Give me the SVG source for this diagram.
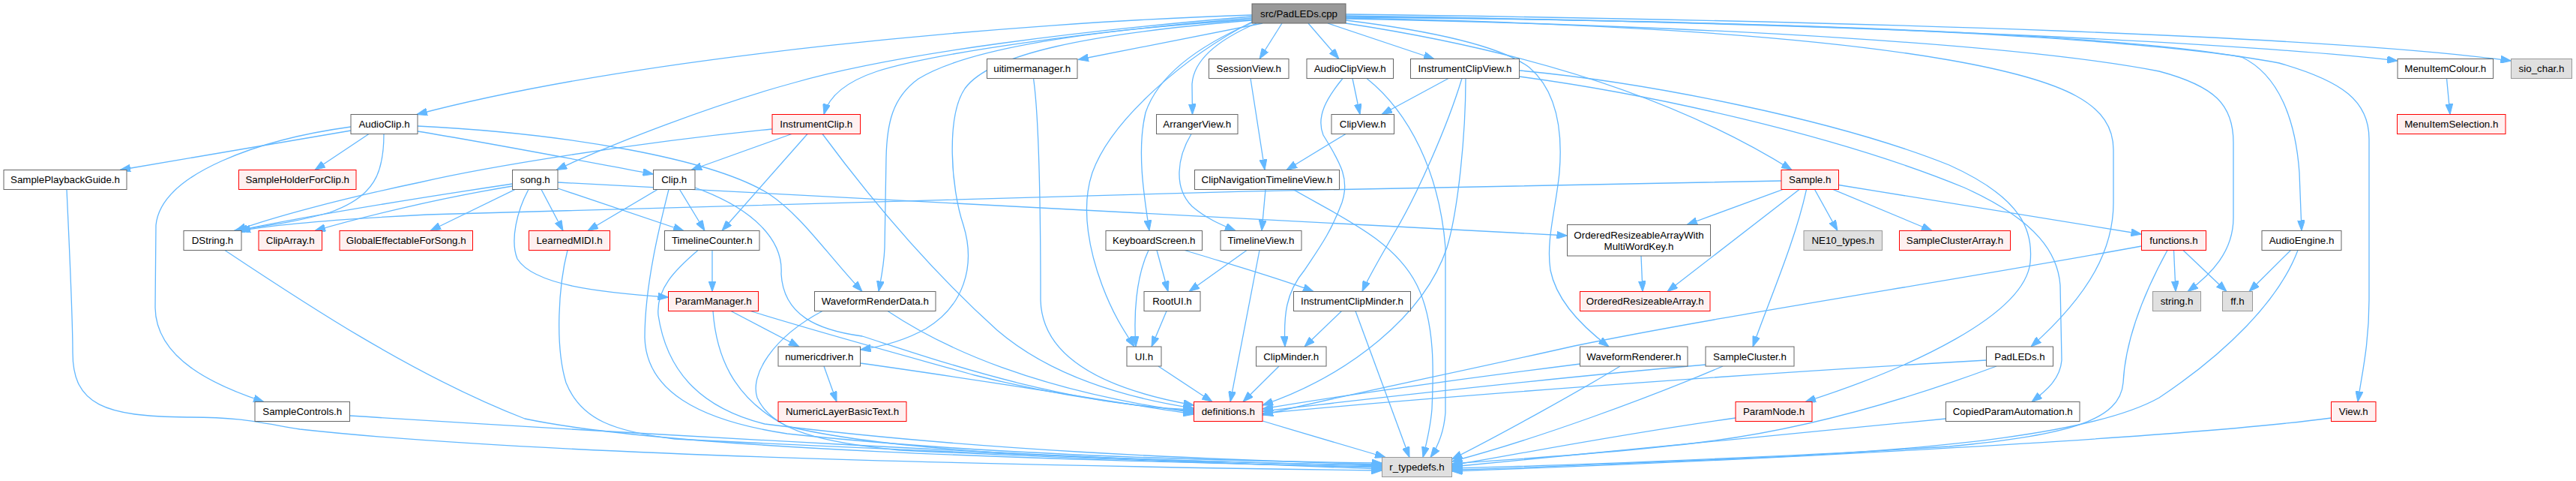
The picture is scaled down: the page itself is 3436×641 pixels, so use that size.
<svg xmlns="http://www.w3.org/2000/svg" width="3436" height="641" viewBox="0 0 3436 641">
<style>
.node rect{fill:#ffffff;stroke:#666666;stroke-width:1}
.node.red rect{fill:#fff0f0;stroke:#ff0000}
.node.gray rect{fill:#e0e0e0;stroke:#999999}
.node.root rect{fill:#999999;stroke:#666666}
.node text{font-family:"Liberation Sans",Arial,Helvetica,sans-serif;font-size:13.33px;fill:#000000;text-anchor:middle}
#edges path{fill:none;stroke:#63b8ff;stroke-width:1.3;marker-end:url(#ah)}
</style>
<defs>
<marker id="ah" markerWidth="14" markerHeight="10" refX="14" refY="5" orient="auto" markerUnits="userSpaceOnUse"><path d="M0,0L14,5L0,10z" fill="#63b8ff" stroke="#63b8ff" stroke-width="1"/></marker>
</defs>
<rect x="0" y="0" width="3436" height="641" fill="#ffffff"/>
<g id="edges">
<path d="M1670,20 C1350,30 850,75 556,152.5"/>
<path d="M1670,22 C1450,40 1200,70 1060,110 C950,140 820,190 742,226.5"/>
<path d="M1670,24 C1450,42 1250,70 1170,95 C1125,110 1105,130 1099,152.5"/>
<path d="M1670,26 C1450,40 1290,65 1225,105 C1190,130 1183,165 1182,210 L1180,330 C1179,355 1175,372 1172,388.5"/>
<path d="M1670,27 C1450,45 1320,72 1287,118 C1262,155 1268,250 1285,300 C1302,355 1285,408 1235,438 C1205,455 1175,462 1147.5,466"/>
<path d="M1684,31 L1438,79.5"/>
<path d="M1672,28 C1580,75 1482,160 1457,230 C1440,280 1455,340 1470,380 C1485,420 1500,442 1513,462"/>
<path d="M1673,29 C1600,60 1545,100 1528,150 C1516,200 1526,262 1533,307.5"/>
<path d="M1676,31 C1620,55 1592,82 1590,112 L1590.5,152.5"/>
<path d="M1710,31 L1680,78.5"/>
<path d="M1745,31 L1786,78.5"/>
<path d="M1771,31 L1913,78.5"/>
<path d="M1795,27 C1900,40 2000,60 2040,90 C2075,120 2085,170 2080,230 C2075,280 2062,320 2068,360 C2076,400 2110,435 2146,462"/>
<path d="M1795,31 C2000,62 2220,120 2390,226.5"/>
<path d="M1795,24 C2100,30 2400,45 2600,80 C2760,108 2819,140 2819,200 L2819,270 C2819,330 2790,390 2709,462"/>
<path d="M1795,25 C2300,35 2700,60 2880,95 C2955,115 2979,140 2979,190 L2979,290 C2979,335 2950,365 2918,388.5"/>
<path d="M1795,22 C2300,28 2800,42 2990,76 C3040,100 3062,160 3067,230 L3070,307.5"/>
<path d="M1795,23 C2400,28 2850,48 3040,84 C3125,108 3160,135 3160,185 L3160,400 C3160,460 3150,500 3145,535.5"/>
<path d="M1795,21 C2500,32 3000,58 3198,81"/>
<path d="M1795,19 C2500,28 3100,48 3349.5,81"/>
<path d="M468,174 L160,226.5"/>
<path d="M492,178.5 L420,226.5"/>
<path d="M512,178.5 C512,230 500,262 440,283 C392,297 350,301 312,307.5"/>
<path d="M468,169 C350,185 215,230 208,300 L207,410 C208,480 290,515 352,535.5"/>
<path d="M557,175 C650,190 780,215 871.5,232"/>
<path d="M557,168 C760,178 950,212 1025,258 C1070,288 1100,335 1150,388.5"/>
<path d="M1030,172 C850,190 650,222 560,243 C450,266 362,290 314,307.5"/>
<path d="M1056,178.5 L922,226.5"/>
<path d="M1077,178.5 L963,307.5"/>
<path d="M1097,178.5 C1150,250 1230,350 1330,440 C1400,500 1500,530 1592.5,544"/>
<path d="M683.5,245 C550,265 400,290 316,307.5"/>
<path d="M683.5,248 C580,265 480,290 420,307.5"/>
<path d="M687,252.5 L574,307.5"/>
<path d="M722,252.5 L751,307.5"/>
<path d="M744,251 L912,307.5"/>
<path d="M705,252.5 C690,280 680,320 690,345 C712,380 800,390 891.5,396"/>
<path d="M744,243 C1000,258 1500,285 2090.5,314"/>
<path d="M877,252.5 L784,307.5"/>
<path d="M906.5,252.5 L940,307.5"/>
<path d="M892,252.5 C880,300 860,380 860,450 C862,520 930,560 1050,578 C1300,605 1600,614 1843.5,617"/>
<path d="M927,250 C1005,278 1045,320 1042,365 C1045,420 1090,440 1150,448 C1250,480 1420,540 1592.5,546"/>
<path d="M950,333.5 L950,388.5"/>
<path d="M931,333.5 C900,360 875,385 878,420 C890,500 940,545 1020,565 C1300,600 1600,612 1843.5,619"/>
<path d="M757,333.5 C745,380 740,460 755,510 C775,560 820,575 900,585 C1300,605 1600,615 1843.5,621"/>
<path d="M300,333.5 C400,400 550,500 700,558 C900,600 1400,612 1843.5,623"/>
<path d="M89,252.5 C92,320 97,420 97,470 C97,540 140,555 250,556 C320,556 340,562 400,572 C700,605 1300,620 1843.5,627"/>
<path d="M466.5,554 C800,575 1400,610 1843.5,625"/>
<path d="M975,414.5 L1066,462"/>
<path d="M1001,414.5 C1100,445 1200,472 1300,500 C1400,525 1500,540 1592.5,548"/>
<path d="M951,414.5 C955,470 975,530 1050,568 C1200,605 1500,614 1843.5,620"/>
<path d="M1184,414.5 C1260,465 1380,520 1592.5,550"/>
<path d="M1097,414.5 C1030,450 1000,500 1010,530 C1030,575 1100,590 1200,600 C1500,614 1700,620 1843.5,622"/>
<path d="M1099,488 L1116,535.5"/>
<path d="M1147.5,484 C1300,505 1450,530 1592.5,552"/>
<path d="M1684,561 C1740,578 1800,595 1848,609.5"/>
<path d="M1378.5,104.5 C1385,150 1388,250 1388,400 C1390,480 1480,520 1592.5,540"/>
<path d="M1668,104.5 L1687,226.5"/>
<path d="M1589,178.5 C1570,210 1565,250 1590,275 C1610,292 1630,300 1648,307.5"/>
<path d="M1795,178.5 L1716,226.5"/>
<path d="M1688,252.5 L1683,307.5"/>
<path d="M1725,252.5 C1790,290 1860,320 1890,380 C1915,430 1912,500 1910,545 C1908,570 1903,590 1898,609.5"/>
<path d="M1663,333.5 L1586,388.5"/>
<path d="M1680,333.5 L1641,535.5"/>
<path d="M1532,333.5 C1515,370 1512,420 1515,462"/>
<path d="M1543,333.5 L1558,388.5"/>
<path d="M1580,333.5 C1650,355 1710,372 1752,388.5"/>
<path d="M1556,414.5 L1536,462"/>
<path d="M1545,488 L1617,535.5"/>
<path d="M1706,488 L1658,535.5"/>
<path d="M1789.5,414.5 L1740,462"/>
<path d="M1808,414.5 L1880,609.5"/>
<path d="M1804,104.5 L1814,152.5"/>
<path d="M1791,104.5 C1770,130 1755,155 1765,180 C1790,220 1800,240 1790,270 C1775,310 1760,330 1740,360 C1715,390 1712,420 1714,462"/>
<path d="M1823,104.5 C1880,150 1920,230 1928,330 L1928,550 C1926,575 1918,595 1908,609.5"/>
<path d="M1932,104.5 L1843,152.5"/>
<path d="M1950,104.5 C1930,170 1890,260 1860,310 C1840,345 1825,370 1817,388.5"/>
<path d="M1955,104.5 C1955,180 1945,280 1930,330 C1900,420 1800,500 1684,540"/>
<path d="M2026.5,94 C2200,110 2450,160 2600,220 C2700,265 2712,310 2708,350 C2700,420 2550,490 2408,535.5"/>
<path d="M2026.5,102 C2200,125 2450,180 2620,250 C2720,295 2745,340 2748,380 L2750,480 C2748,505 2730,520 2710,535.5"/>
<path d="M2107.5,485 C1950,505 1800,525 1684,545"/>
<path d="M2161,488 C2100,525 2000,580 1936.5,612"/>
<path d="M2275,486 C2000,510 1800,535 1684,548"/>
<path d="M2298,488 C2200,530 2050,585 1936.5,615"/>
<path d="M2649.5,480 C2300,500 1900,530 1684,551"/>
<path d="M2663,488 C2550,530 2420,570 2280,588 C2150,605 2000,613 1936.5,618"/>
<path d="M2315,557 C2150,580 2000,610 1936.5,620"/>
<path d="M2595.5,558 C2400,578 2100,605 1936.5,622"/>
<path d="M3109.5,557 C2900,585 2300,615 1936.5,628"/>
<path d="M2899.5,333.5 L2902,388.5"/>
<path d="M2912,333.5 L2970,388.5"/>
<path d="M2856.5,328 C2600,375 2300,420 2100,461 C1950,495 1800,525 1684,553"/>
<path d="M2891,333.5 C2860,390 2835,450 2832,510 C2828,560 2760,580 2600,595 C2400,608 2100,620 1936.5,624"/>
<path d="M3055.5,333.5 L3000,388.5"/>
<path d="M3065,333.5 C3040,400 2970,470 2880,530 C2800,575 2600,600 2300,612 C2100,620 2000,625 1936.5,626"/>
<path d="M2376,241 C1800,250 1000,270 570,286 C450,292 362,300 320,307.5"/>
<path d="M2378,252.5 L2250,299.5"/>
<path d="M2400,252.5 L2224,388.5"/>
<path d="M2409.5,252.5 C2395,320 2360,400 2338,462"/>
<path d="M2420.5,252.5 L2451,307.5"/>
<path d="M2445,252.5 L2577,307.5"/>
<path d="M2452.5,246.5 L2856.5,312"/>
<path d="M2189,341 L2191,388.5"/>
<path d="M3263.5,104.5 L3268,152.5"/>
</g>
<g id="n0" class="node root"><rect x="1670" y="5" width="125" height="26"/><text x="1732.5" y="22.8">src/PadLEDs.cpp</text></g>
<g id="n1" class="node"><rect x="468" y="152.5" width="89" height="26"/><text x="512.5" y="170.3">AudioClip.h</text></g>
<g id="n2" class="node"><rect x="5" y="226.5" width="164" height="26"/><text x="87" y="244.3">SamplePlaybackGuide.h</text></g>
<g id="n3" class="node red"><rect x="318.5" y="226.5" width="156.5" height="26"/><text x="396.75" y="244.3">SampleHolderForClip.h</text></g>
<g id="n4" class="node"><rect x="245" y="307.5" width="77" height="26"/><text x="283.5" y="325.3">DString.h</text></g>
<g id="n5" class="node"><rect x="340" y="535.5" width="126.5" height="26"/><text x="403.25" y="553.3">SampleControls.h</text></g>
<g id="n6" class="node"><rect x="871.5" y="226.5" width="55.5" height="26"/><text x="899.25" y="244.3">Clip.h</text></g>
<g id="n7" class="node"><rect x="1086.5" y="388.5" width="161.5" height="26"/><text x="1167.25" y="406.3">WaveformRenderData.h</text></g>
<g id="n8" class="node red"><rect x="1030" y="152.5" width="117.5" height="26"/><text x="1088.75" y="170.3">InstrumentClip.h</text></g>
<g id="n9" class="node"><rect x="683.5" y="226.5" width="60.5" height="26"/><text x="713.75" y="244.3">song.h</text></g>
<g id="n10" class="node red"><rect x="345" y="307.5" width="84.5" height="26"/><text x="387.25" y="325.3">ClipArray.h</text></g>
<g id="n11" class="node red"><rect x="453" y="307.5" width="177.5" height="26"/><text x="541.75" y="325.3">GlobalEffectableForSong.h</text></g>
<g id="n12" class="node red"><rect x="705.5" y="307.5" width="108" height="26"/><text x="759.5" y="325.3">LearnedMIDI.h</text></g>
<g id="n13" class="node"><rect x="886.5" y="307.5" width="126.5" height="26"/><text x="949.75" y="325.3">TimelineCounter.h</text></g>
<g id="n14" class="node red"><rect x="891.5" y="388.5" width="120" height="26"/><text x="951.5" y="406.3">ParamManager.h</text></g>
<g id="n15" class="node"><rect x="1038" y="462" width="109.5" height="26"/><text x="1092.75" y="479.8">numericdriver.h</text></g>
<g id="n16" class="node red"><rect x="1038" y="535.5" width="171" height="26"/><text x="1123.5" y="553.3">NumericLayerBasicText.h</text></g>
<g id="n17" class="node red"><rect x="1592.5" y="535.5" width="91.5" height="26"/><text x="1638.25" y="553.3">definitions.h</text></g>
<g id="n18" class="node gray"><rect x="1843.5" y="609.5" width="93" height="26"/><text x="1890" y="627.3">r_typedefs.h</text></g>
<g id="n19" class="node"><rect x="1316.5" y="78.5" width="120.5" height="26"/><text x="1376.75" y="96.3">uitimermanager.h</text></g>
<g id="n20" class="node"><rect x="1612.5" y="78.5" width="106.5" height="26"/><text x="1665.75" y="96.3">SessionView.h</text></g>
<g id="n21" class="node"><rect x="1593.5" y="226.5" width="193" height="26"/><text x="1690" y="244.3">ClipNavigationTimelineView.h</text></g>
<g id="n22" class="node"><rect x="1628" y="307.5" width="108" height="26"/><text x="1682" y="325.3">TimelineView.h</text></g>
<g id="n23" class="node"><rect x="1542.5" y="152.5" width="108.5" height="26"/><text x="1596.75" y="170.3">ArrangerView.h</text></g>
<g id="n24" class="node"><rect x="1475" y="307.5" width="128.5" height="26"/><text x="1539.25" y="325.3">KeyboardScreen.h</text></g>
<g id="n25" class="node"><rect x="1526" y="388.5" width="75" height="26"/><text x="1563.5" y="406.3">RootUI.h</text></g>
<g id="n26" class="node"><rect x="1503" y="462" width="46" height="26"/><text x="1526" y="479.8">UI.h</text></g>
<g id="n27" class="node"><rect x="1725.5" y="388.5" width="156" height="26"/><text x="1803.5" y="406.3">InstrumentClipMinder.h</text></g>
<g id="n28" class="node"><rect x="1675.5" y="462" width="93.5" height="26"/><text x="1722.25" y="479.8">ClipMinder.h</text></g>
<g id="n29" class="node"><rect x="1743" y="78.5" width="115.5" height="26"/><text x="1800.75" y="96.3">AudioClipView.h</text></g>
<g id="n30" class="node"><rect x="1776" y="152.5" width="83.5" height="26"/><text x="1817.75" y="170.3">ClipView.h</text></g>
<g id="n31" class="node"><rect x="1881.5" y="78.5" width="145" height="26"/><text x="1954" y="96.3">InstrumentClipView.h</text></g>
<g id="n32" class="node red"><rect x="2315" y="535.5" width="102" height="26"/><text x="2366" y="553.3">ParamNode.h</text></g>
<g id="n33" class="node"><rect x="2595.5" y="535.5" width="178.5" height="26"/><text x="2684.75" y="553.3">CopiedParamAutomation.h</text></g>
<g id="n34" class="node"><rect x="2107.5" y="462" width="143.5" height="26"/><text x="2179.25" y="479.8">WaveformRenderer.h</text></g>
<g id="n35" class="node red"><rect x="2376" y="226.5" width="76.5" height="26"/><text x="2414.25" y="244.3">Sample.h</text></g>
<g id="n36" class="node"><rect x="2090.5" y="299.5" width="191" height="41.5"/><text x="2186" y="317.5">OrderedResizeableArrayWith</text><text x="2186" y="332.5">MultiWordKey.h</text></g>
<g id="n37" class="node red"><rect x="2107.5" y="388.5" width="173.5" height="26"/><text x="2194.25" y="406.3">OrderedResizeableArray.h</text></g>
<g id="n38" class="node gray"><rect x="2406" y="307.5" width="104.5" height="26"/><text x="2458.25" y="325.3">NE10_types.h</text></g>
<g id="n39" class="node red"><rect x="2533.5" y="307.5" width="148" height="26"/><text x="2607.5" y="325.3">SampleClusterArray.h</text></g>
<g id="n40" class="node"><rect x="2275" y="462" width="118" height="26"/><text x="2334" y="479.8">SampleCluster.h</text></g>
<g id="n41" class="node red"><rect x="2856.5" y="307.5" width="86" height="26"/><text x="2899.5" y="325.3">functions.h</text></g>
<g id="n42" class="node gray"><rect x="2871.5" y="388.5" width="64" height="26"/><text x="2903.5" y="406.3">string.h</text></g>
<g id="n43" class="node gray"><rect x="2964.5" y="388.5" width="40" height="26"/><text x="2984.5" y="406.3">ff.h</text></g>
<g id="n44" class="node"><rect x="2649.5" y="462" width="89" height="26"/><text x="2694" y="479.8">PadLEDs.h</text></g>
<g id="n45" class="node"><rect x="3017" y="307.5" width="106" height="26"/><text x="3070" y="325.3">AudioEngine.h</text></g>
<g id="n46" class="node red"><rect x="3109.5" y="535.5" width="59.5" height="26"/><text x="3139.25" y="553.3">View.h</text></g>
<g id="n47" class="node"><rect x="3198" y="78.5" width="127.5" height="26"/><text x="3261.75" y="96.3">MenuItemColour.h</text></g>
<g id="n48" class="node red"><rect x="3197.5" y="152.5" width="144.5" height="26"/><text x="3269.75" y="170.3">MenuItemSelection.h</text></g>
<g id="n49" class="node gray"><rect x="3349.5" y="78.5" width="81" height="26"/><text x="3390" y="96.3">sio_char.h</text></g>
</svg>
